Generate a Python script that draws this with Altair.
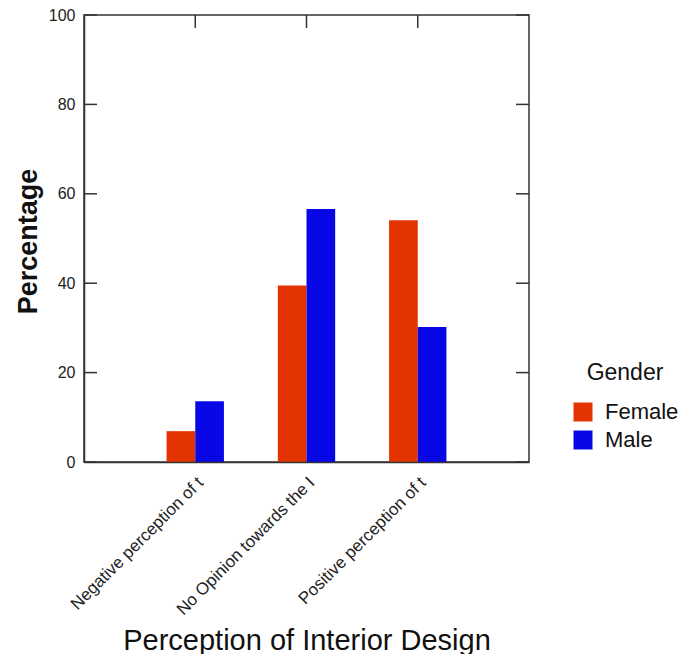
import altair as alt
import pandas as pd

categories = ["Negative perception of t", "No Opinion towards the I", "Positive perception of t"]
genders = ["Female", "Male"]
female_pct = [6.9, 39.5, 54.1]
male_pct = [13.6, 56.6, 30.2]
y_ticks = [0, 20, 40, 60, 80, 100]

rows = []
for c, f, m in zip(categories, female_pct, male_pct):
    rows.append({"category": c, "gender": "Female", "pct": f})
    rows.append({"category": c, "gender": "Male", "pct": m})
df = pd.DataFrame(rows)
tick_df = pd.DataFrame({"v": y_ticks})
cat_df = pd.DataFrame({"category": categories})

W, H = 445, 447
AXIS = "#333333"
RED = "#E23300"
BLUE = "#0808E6"
FONT = "Liberation Sans"

xscale = alt.Scale(domain=categories, paddingInner=0, paddingOuter=0.5)
yscale = alt.Scale(domain=[0, 100], nice=False)

bars = alt.Chart(df).mark_bar().encode(
    x=alt.X(
        "category:N", scale=xscale, sort=categories,
        axis=alt.Axis(
            title="Perception of Interior Design", labelAngle=-45, labelFontSize=17,
            labelColor="#222222", labelPadding=12, ticks=False, domain=True,
            domainColor=AXIS, domainWidth=1.5, zindex=1,
            titleFontSize=29, titleFontWeight="normal", titleColor="#111111",
            titleY=187, titleBaseline="alphabetic", labelLimit=300,
        ),
    ),
    xOffset=alt.XOffset("gender:N", scale=alt.Scale(domain=genders, paddingInner=0, paddingOuter=0.94)),
    y=alt.Y(
        "pct:Q", scale=yscale,
        axis=alt.Axis(
            title="Percentage", values=y_ticks, ticks=False, grid=False, domain=True,
            domainColor=AXIS, domainWidth=1.5, zindex=1,
            labelFontSize=16, labelColor="#222222", labelPadding=9,
            titleFontSize=27, titleFontWeight="bold", titleColor="#111111",
            titleX=-56, titleY=226, titleBaseline="middle",
        ),
    ),
    color=alt.Color(
        "gender:N", scale=alt.Scale(domain=genders, range=[RED, BLUE]),
        legend=alt.Legend(
            title="Gender", orient="none", legendX=488, legendY=347,
            titleFontSize=23, titleFontWeight="normal", titleColor="#111111",
            titleAnchor="middle", titlePadding=16,
            labelFontSize=22, labelColor="#111111", labelOffset=11,
            symbolType="square", symbolSize=361, symbolStrokeWidth=0,
            symbolOpacity=1, rowPadding=6,
        ),
    ),
)

left_ticks = alt.Chart(tick_df).mark_tick(
    orient="horizontal", size=13, thickness=1.5, color=AXIS, opacity=1
).encode(y=alt.Y("v:Q", scale=yscale), x=alt.value(6.5))

right_ticks = alt.Chart(tick_df).mark_tick(
    orient="horizontal", size=13, thickness=1.5, color=AXIS, opacity=1
).encode(y=alt.Y("v:Q", scale=yscale), x=alt.value(W - 6.5))

top_ticks = alt.Chart(cat_df).mark_tick(
    orient="vertical", size=13, thickness=1.5, color=AXIS, opacity=1
).encode(x=alt.X("category:N", scale=xscale, sort=categories), y=alt.value(6.5))

chart = alt.layer(bars, left_ticks, right_ticks, top_ticks).properties(
    width=W, height=H,
    autosize=alt.AutoSizeParams(type="none"),
    padding={"left": 76, "top": 7, "right": 154, "bottom": 192},
).configure(font=FONT).configure_view(
    stroke=AXIS, strokeWidth=1.5
)

chart.save("out.html", embed_options={"renderer": "svg", "actions": False})
